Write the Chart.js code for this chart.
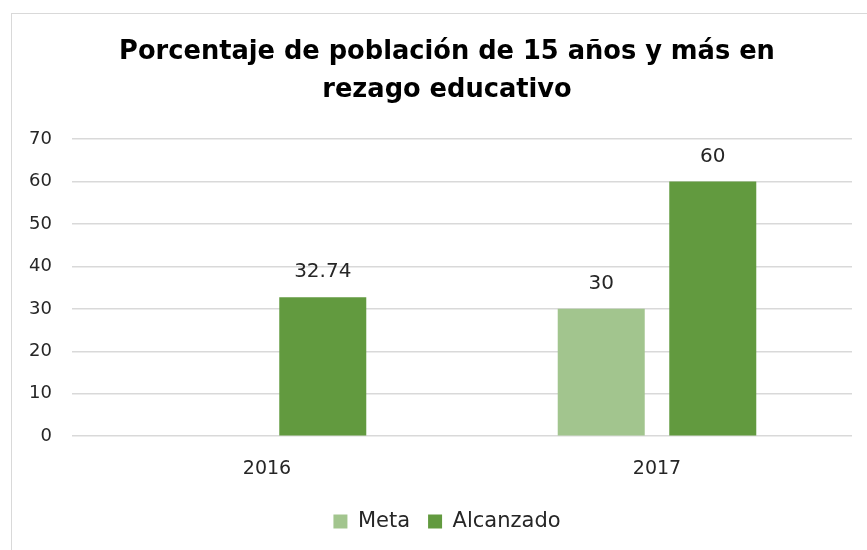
<!DOCTYPE html>
<html>
<head>
<meta charset="utf-8">
<script src="https://cdn.jsdelivr.net/npm/chart.js@4"></script>
<style>
    html, body { margin: 0; padding: 0; background: #fff; }
    #frame {
        position: absolute;
        left: 11px;
        top: 13px;
        width: 856px;
        height: 537px;
        border-left: 1px solid #d9d9d9;
        border-top: 1px solid #d9d9d9;
    }
    #chart { display: block; }
</style>
</head>
<body>
<div id="frame"><canvas id="chart" width="855" height="536"></canvas></div>
<script>
// Chart data
const years = ['2016', '2017'];
const metaValues = [null, 30];
const alcanzadoValues = [32.74, 60];
const yTicks = [0, 10, 20, 30, 40, 50, 60, 70];

const FONT = "'DejaVu Sans', sans-serif";
const TEXT = '#262626';

// Draws each value above its bar
const valueLabels = {
    id: 'valueLabels',
    afterDatasetsDraw(chart) {
        const ctx = chart.ctx;
        ctx.save();
        ctx.font = '20px ' + FONT;
        ctx.fillStyle = TEXT;
        ctx.textAlign = 'center';
        ctx.textBaseline = 'middle';
        chart.data.datasets.forEach((ds, i) => {
            chart.getDatasetMeta(i).data.forEach((bar, j) => {
                const v = ds.data[j];
                if (v === null || v === undefined) return;
                ctx.fillText(String(v), bar.x, bar.y - 25);
            });
        });
        ctx.restore();
    }
};

const ctx = document.getElementById('chart').getContext('2d');
new Chart(ctx, {
    type: 'bar',
    data: {
        labels: years,
        datasets: [{
            label: 'Meta',
            data: metaValues,
            backgroundColor: '#a2c58e',
            categoryPercentage: 0.572,
            barPercentage: 0.78
        }, {
            label: 'Alcanzado',
            data: alcanzadoValues,
            backgroundColor: '#629a3f',
            categoryPercentage: 0.572,
            barPercentage: 0.78
        }]
    },
    options: {
        responsive: false,
        animation: false,
        layout: {
            padding: { left: 30, right: 15, top: 0, bottom: 8 }
        },
        plugins: {
            title: {
                display: true,
                text: ['Porcentaje de población de 15 años y más en', 'rezago educativo'],
                color: '#000',
                font: { family: FONT, size: 25.7, weight: 'bold', lineHeight: 1.48 },
                padding: { top: 19, bottom: 30 }
            },
            legend: {
                position: 'bottom',
                labels: {
                    color: TEXT,
                    font: { family: FONT, size: 21 },
                    boxWidth: 14,
                    boxHeight: 14,
                    padding: 18
                }
            },
            tooltip: { enabled: false }
        },
        scales: {
            x: {
                grid: { display: false },
                border: { display: false },
                ticks: { color: TEXT, font: { family: FONT, size: 19 }, padding: 13 }
            },
            y: {
                min: 0,
                max: 70,
                afterBuildTicks(axis) {
                    axis.ticks = yTicks.map(v => ({ value: v }));
                },
                afterFit(axis) {
                    axis.width = 30;
                },
                grid: { color: '#d9d9d9', lineWidth: 1.5, drawTicks: false },
                border: { display: false },
                // labels sit left of the axis box, right-aligned
                ticks: {
                    color: TEXT,
                    font: { family: FONT, size: 18 },
                    mirror: true,
                    crossAlign: 'far',
                    padding: -43
                }
            }
        }
    },
    plugins: [valueLabels]
});
</script>
</body>
</html>
